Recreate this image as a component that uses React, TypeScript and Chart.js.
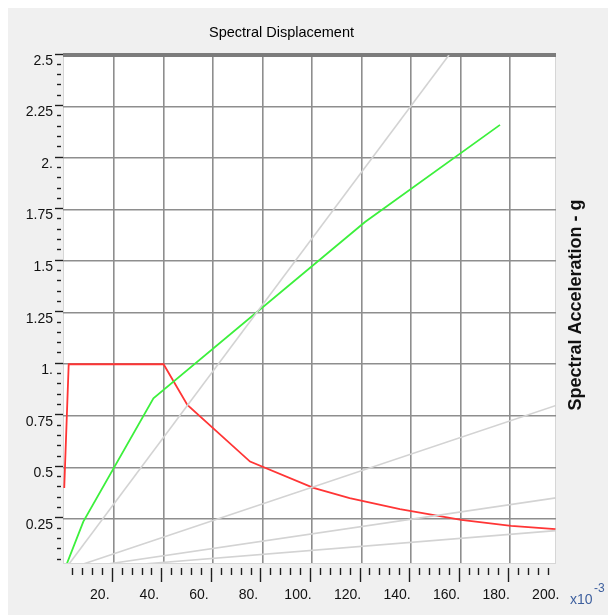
import React, { useEffect, useRef } from "react";
import { Chart, registerables } from "chart.js";

Chart.register(...registerables);

// ---- data ----
const xTickValues = [20, 40, 60, 80, 100, 120, 140, 160, 180, 200];
const xTickLabels = ["20.", "40.", "60.", "80.", "100.", "120.", "140.", "160.", "180.", "200."];
const yTickValues = [0.25, 0.5, 0.75, 1, 1.25, 1.5, 1.75, 2, 2.25, 2.5];
const yTickLabels = ["0.25", "0.5", "0.75", "1.", "1.25", "1.5", "1.75", "2.", "2.25", "2.5"];

// demand spectrum (red)
const demandSd = [0, 1.8, 40.1, 49.7, 75, 100.6, 115.2, 135.5, 160.2, 180.4, 198.3];
const demandSa = [0.4, 1.0, 1.0, 0.803, 0.528, 0.4, 0.351, 0.297, 0.245, 0.216, 0.2];

// capacity curve (green)
const capacitySd = [0, 7.7, 36.0, 121.4, 175.9];
const capacitySa = [0, 0.237, 0.835, 1.69, 2.161];

// constant-period radial lines (gray)
const periodSd = [
  [0, 155.3],
  [0, 198.5],
  [0, 198.5],
  [0, 198.5],
];
const periodSa = [
  [0, 2.5],
  [0, 0.8],
  [0, 0.352],
  [0, 0.193],
];

const titleText = "Spectral Displacement";
const rightTitle = "Spectral Acceleration - g";
const captionText = "format.";

const SANS = "'Liberation Sans', Arial, sans-serif";

const pts = (xs: number[], ys: number[]) => xs.map((x, i) => ({ x, y: ys[i] }));

export default function App() {
  const ref = useRef<HTMLCanvasElement | null>(null);

  useEffect(() => {
    if (!ref.current) return;

    const bgPlugin = {
      id: "bgPlot",
      beforeDraw(chart: any) {
        const { ctx, chartArea: a } = chart;
        ctx.save();
        ctx.fillStyle = "#ffffff";
        ctx.fillRect(a.left, a.top, a.right - a.left, a.bottom - a.top);
        ctx.strokeStyle = "#d6d6d6";
        ctx.lineWidth = 1;
        ctx.strokeRect(a.left + 0.5, a.top + 0.5, a.right - a.left - 1, a.bottom - a.top);
        ctx.restore();
      },
    };

    const decoPlugin = {
      id: "deco",
      afterDraw(chart: any) {
        const { ctx, chartArea: a, scales } = chart;
        const xs = scales.x;
        const ys = scales.y;
        ctx.save();
        ctx.strokeStyle = "#1e1e1e";
        ctx.lineWidth = 1.4;
        // y ticks
        for (let k = 1; k <= 50; k++) {
          const v = k * 0.05;
          if (v < ys.min) continue;
          const py = Math.round(ys.getPixelForValue(v) - 1.5) + 0.5;
          const major = k % 5 === 0;
          ctx.beginPath();
          if (major) {
            ctx.moveTo(a.left - 8, py);
            ctx.lineTo(a.left, py);
          } else {
            ctx.moveTo(a.left - 6, py);
            ctx.lineTo(a.left - 2, py);
          }
          ctx.stroke();
        }
        // x ticks
        for (let k = 1; k <= 49; k++) {
          const v = k * 4;
          const px = Math.round(xs.getPixelForValue(v) - 2) + 0.5;
          const major = k % 5 === 0;
          ctx.beginPath();
          ctx.moveTo(px, a.bottom + 5);
          ctx.lineTo(px, a.bottom + (major ? 19 : 12));
          ctx.stroke();
        }
        // right title
        ctx.fillStyle = "#111111";
        ctx.font = "bold 18px " + SANS;
        ctx.textAlign = "center";
        ctx.textBaseline = "middle";
        ctx.translate(569, (a.top + a.bottom) / 2 - 4);
        ctx.rotate(-Math.PI / 2);
        ctx.fillText(rightTitle, 0, 0);
        ctx.restore();

        // x10^-3
        ctx.save();
        ctx.fillStyle = "#3d5f9e";
        ctx.textAlign = "left";
        ctx.textBaseline = "alphabetic";
        ctx.font = "14px " + SANS;
        ctx.fillText("x10", 563, 596);
        ctx.font = "12px " + SANS;
        ctx.fillText("-3", 587, 584);
        ctx.restore();
      },
    };

    const grayDs = periodSd.map((xsArr, i) => ({
      label: "T" + i,
      data: pts(xsArr, periodSa[i]),
      borderColor: "#d3d3d3",
      borderWidth: 1.6,
      pointRadius: 0,
      showLine: true,
      fill: false,
    }));

    const chart = new Chart(ref.current, {
      type: "scatter",
      data: {
        datasets: [
          ...grayDs,
          {
            label: "Capacity",
            data: pts(capacitySd, capacitySa),
            borderColor: "#3cf03c",
            borderWidth: 1.8,
            pointRadius: 0,
            showLine: true,
            fill: false,
          },
          {
            label: "Demand",
            data: pts(demandSd, demandSa),
            borderColor: "#ff3535",
            borderWidth: 1.8,
            pointRadius: 0,
            showLine: true,
            fill: false,
          },
        ],
      },
      options: {
        animation: false,
        responsive: false,
        devicePixelRatio: 1,
        events: [],
        layout: { padding: { left: 0, top: 0, right: 60, bottom: 0 } },
        plugins: {
          legend: { display: false },
          tooltip: { enabled: false },
          title: {
            display: true,
            text: titleText,
            color: "#000000",
            font: { family: SANS, size: 14.5, weight: "normal" },
            padding: { top: 16.5, bottom: 13.1 },
          },
        },
        scales: {
          x: {
            type: "linear",
            min: -0.5,
            max: 198.5,
            afterBuildTicks: (s: any) => {
              s.ticks = xTickValues.map((v) => ({ value: v }));
            },
            afterFit: (s: any) => {
              s.height = 52;
            },
            ticks: {
              autoSkip: false,
              maxRotation: 0,
              minRotation: 0,
              padding: 24,
              labelOffset: -14,
              color: "#111111",
              font: { family: SANS, size: 14 },
              callback: (_v: any, i: number) => xTickLabels[i],
            },
            grid: {
              drawTicks: false,
              lineWidth: 1.6,
              color: (c: any) => (c.tick && c.tick.value >= 200 ? "rgba(0,0,0,0)" : "#8e8e8e"),
            },
            border: { display: false },
          },
          y: {
            type: "linear",
            min: 0.036,
            max: 2.5,
            afterBuildTicks: (s: any) => {
              s.ticks = yTickValues.map((v) => ({ value: v }));
            },
            afterFit: (s: any) => {
              s.width = 56;
            },
            ticks: {
              autoSkip: false,
              padding: 10,
              labelOffset: 6,
              color: "#111111",
              font: { family: SANS, size: 14 },
              callback: (_v: any, i: number) => yTickLabels[i],
            },
            grid: {
              drawTicks: false,
              lineWidth: (c: any) => (c.tick && c.tick.value === 2.5 ? 4 : 1.6),
              color: (c: any) => (c.tick && c.tick.value === 2.5 ? "#7c7c7c" : "#8e8e8e"),
            },
            border: { display: false },
          },
        },
      },
      plugins: [bgPlugin, decoPlugin],
    } as any);

    return () => chart.destroy();
  }, []);

  return (
    <div
      style={{
        position: "relative",
        width: 616,
        height: 615,
        marginLeft: -8,
        marginTop: -8,
        overflow: "hidden",
        background: "#ffffff",
      }}
    >
      <div
        style={{
          position: "absolute",
          left: 6,
          top: 7,
          width: 620,
          height: 620,
          background: "#f0f0f0",
          border: "1px solid #dcdcdc",
        }}
      >
        <canvas ref={ref} width={609} height={607} style={{ display: "block", width: 609, height: 607 }} />
      </div>
      <div
        style={{
          position: "absolute",
          left: -3,
          top: 0,
          zIndex: 5,
          height: 7,
          width: 120,
          overflow: "hidden",
        }}
      >
        <span
          style={{
            position: "absolute",
            left: 0,
            bottom: 0,
            fontFamily: "'Liberation Serif', 'DejaVu Serif', serif",
            fontSize: 26,
            lineHeight: 1,
            color: "#000",
            whiteSpace: "nowrap",
            transform: "translateY(1.5px)",
          }}
        >
          {captionText}
        </span>
      </div>
    </div>
  );
}
